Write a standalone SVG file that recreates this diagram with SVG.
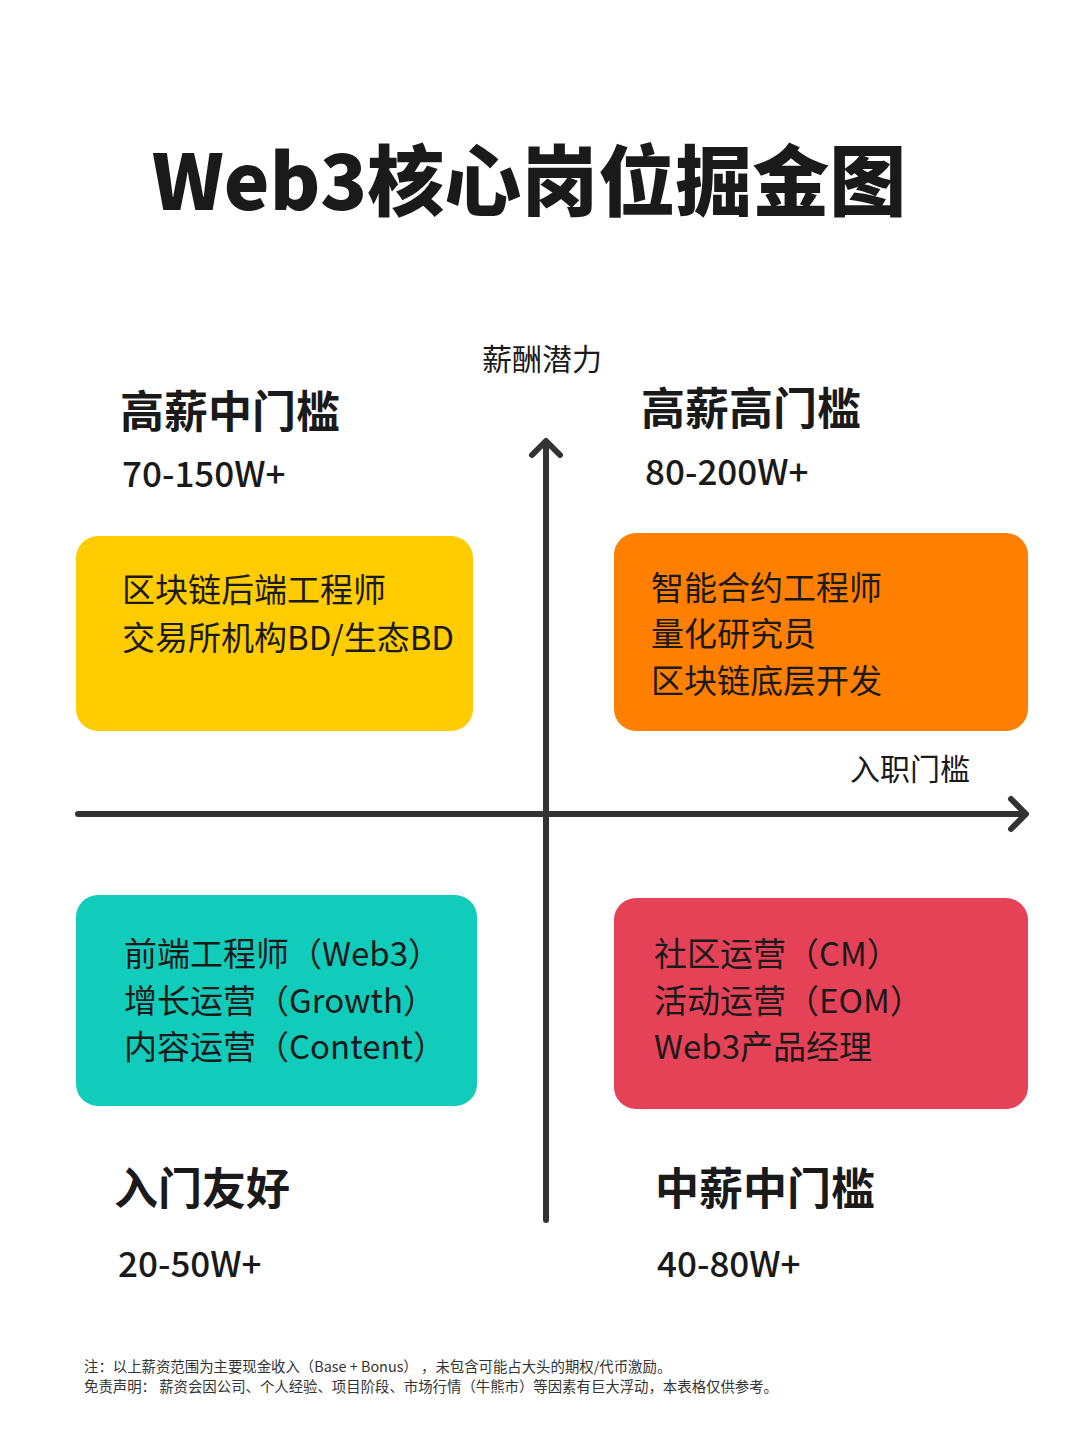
<svg xmlns="http://www.w3.org/2000/svg" width="1080" height="1440" viewBox="0 0 1080 1440">
<style>
text{font-family:"Noto Sans CJK SC","Noto Sans",sans-serif;fill:#1a1a1a}
.title{font-size:77px;font-weight:900;text-anchor:middle}
.axl{font-size:30px;font-weight:400}
.qh{font-size:44px;font-weight:700}
.qs{font-size:35px;font-weight:500}
.bt{font-size:33px;font-weight:400}
.fn{font-size:14.4px;font-weight:400;fill:#333}
.ax{stroke:#333;stroke-width:6;stroke-linecap:round;stroke-linejoin:round;fill:none}
</style>
<rect width="1080" height="1440" fill="#fff"/>
<text class="title" x="529" y="210">Web3核心岗位掘金图</text>

<g id="connectors">
<path class="ax" d="M546 1220 V442"/>
<path class="ax" d="M532 455 L546 441 L560 455"/>
<path class="ax" d="M78 814 H1025"/>
<path class="ax" d="M1011 799 L1026 814 L1011 829"/>
</g>

<g id="axis-y-label"><text class="axl" x="542" y="370" text-anchor="middle">薪酬潜力</text></g>
<g id="axis-x-label"><text class="axl" x="850" y="780">入职门槛</text></g>

<g id="q-top-left">
<text class="qh" x="120" y="428">高薪中门槛</text>
<text class="qs" x="122" y="487">70-150W+</text>
<rect x="76" y="536" width="397" height="195" rx="22" fill="#FFCC00"/>
<text class="bt" x="122" y="602">区块链后端工程师</text>
<text class="bt" x="122" y="650">交易所机构BD/生态BD</text>
</g>

<g id="q-top-right">
<text class="qh" x="641" y="425">高薪高门槛</text>
<text class="qs" x="645" y="485">80-200W+</text>
<rect x="614" y="533" width="414" height="198" rx="22" fill="#FF7F00"/>
<text class="bt" x="651" y="600">智能合约工程师</text>
<text class="bt" x="651" y="646">量化研究员</text>
<text class="bt" x="651" y="693">区块链底层开发</text>
</g>

<g id="q-bottom-left">
<rect x="76" y="895" width="401" height="211" rx="22" fill="#12CCBB"/>
<text class="bt" x="124" y="966">前端工程师（Web3）</text>
<text class="bt" x="124" y="1013">增长运营（Growth）</text>
<text class="bt" x="124" y="1059">内容运营（Content）</text>
<text class="qh" x="114" y="1205">入门友好</text>
<text class="qs" x="118" y="1277">20-50W+</text>
</g>

<g id="q-bottom-right">
<rect x="614" y="898" width="414" height="211" rx="22" fill="#E64257"/>
<text class="bt" x="654" y="966">社区运营（CM）</text>
<text class="bt" x="654" y="1013">活动运营（EOM）</text>
<text class="bt" x="654" y="1059">Web3产品经理</text>
<text class="qh" x="655" y="1205">中薪中门槛</text>
<text class="qs" x="657" y="1277">40-80W+</text>
</g>

<g id="footnote">
<text class="fn" x="84" y="1372">注：以上薪资范围为主要现金收入（Base + Bonus） ，未包含可能占大头的期权/代币激励。</text>
<text class="fn" x="84" y="1392">免责声明： 薪资会因公司、个人经验、项目阶段、市场行情（牛熊市）等因素有巨大浮动，本表格仅供参考。</text>
</g>
</svg>
